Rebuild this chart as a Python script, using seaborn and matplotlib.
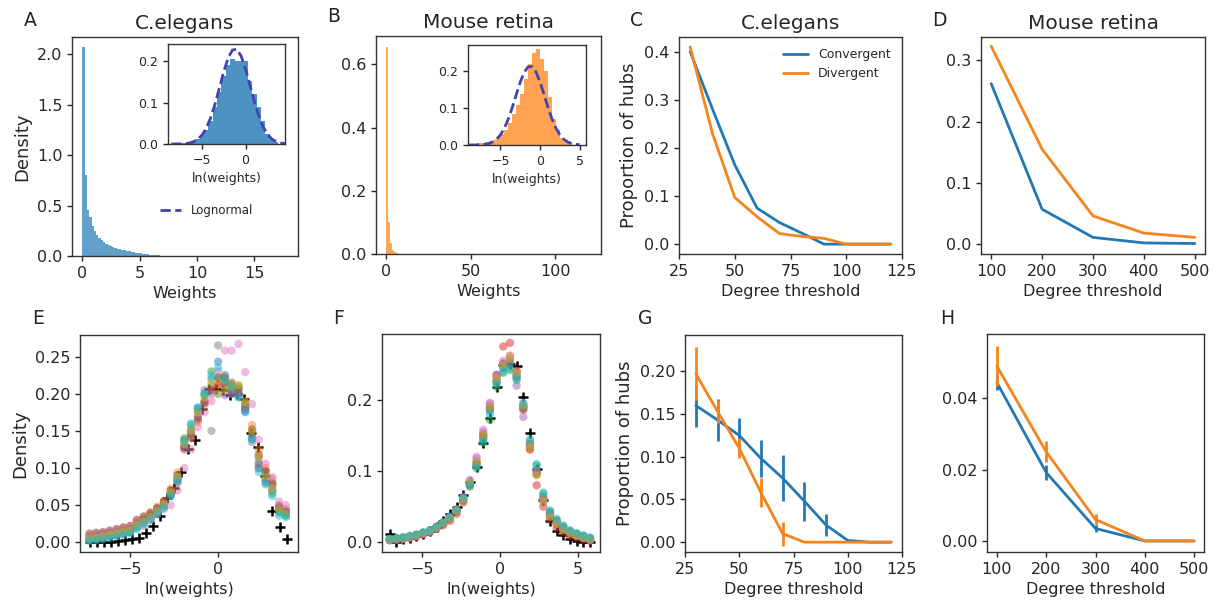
import numpy as np
import pandas as pd
import matplotlib
matplotlib.use("Agg")
import matplotlib.pyplot as plt
from matplotlib.lines import Line2D
import seaborn as sns

# ---------------- data ----------------
# A: C.elegans weight histogram (density per bin, bin width 0.2 starting at 0)
A_bin_width = 0.2
A_density = [2.07, 0.80, 0.46, 0.39, 0.30, 0.25, 0.21, 0.18, 0.155, 0.135,
             0.12, 0.105, 0.095, 0.085, 0.078, 0.070, 0.065, 0.060, 0.055, 0.050,
             0.045, 0.040, 0.036, 0.032, 0.028, 0.025, 0.022, 0.019, 0.016, 0.013,
             0.011, 0.009, 0.007, 0.005, 0.004, 0.003]
# A inset: ln(weights) histogram, bins of 0.5 starting at -8.25
A_ln_start, A_ln_width = -8.25, 0.5
A_ln_density = [0.001, 0.002, 0.003, 0.005, 0.008, 0.013, 0.022, 0.035, 0.055, 0.090,
                0.125, 0.165, 0.190, 0.205, 0.200, 0.200, 0.200, 0.152, 0.120, 0.090,
                0.055, 0.025, 0.012, 0.005]
A_fit_x = [-8.5, -8.0, -7.5, -7.0, -6.5, -6.0, -5.5, -5.0, -4.5, -4.0, -3.5, -3.0, -2.5, -2.0,
           -1.5, -1.0, -0.5, 0.0, 0.5, 1.0, 1.5, 2.0, 2.5, 3.0, 3.5, 4.0, 4.5]
A_fit_y = [0.0, 0.0001, 0.0003, 0.0008, 0.0021, 0.0049, 0.0105, 0.0207, 0.0373, 0.0622,
           0.0953, 0.134, 0.174, 0.207, 0.227, 0.229, 0.212, 0.181, 0.142, 0.103,
           0.068, 0.0417, 0.0234, 0.0121, 0.0058, 0.0025, 0.001]

# B: Mouse retina weight histogram (bin width 1.2 starting at 0)
B_bin_width = 1.2
B_density = [0.655, 0.10, 0.035, 0.012, 0.005, 0.002, 0.001, 0.0005, 0.0003, 0.0002]
B_ln_start, B_ln_width = -8.5, 0.5
B_ln_density = [0.004, 0.005, 0.006, 0.008, 0.010, 0.014, 0.020, 0.030, 0.042, 0.060,
                0.085, 0.110, 0.140, 0.180, 0.220, 0.250, 0.260, 0.235, 0.200, 0.130,
                0.070, 0.040, 0.018, 0.008, 0.003, 0.001, 0.0005]
B_fit_x = [-9.0, -8.5, -8.0, -7.5, -7.0, -6.5, -6.0, -5.5, -5.0, -4.5, -4.0, -3.5, -3.0, -2.5,
           -2.0, -1.5, -1.0, -0.5, 0.0, 0.5, 1.0, 1.5, 2.0, 2.5, 3.0, 3.5, 4.0, 4.5, 5.0]
B_fit_y = [0.0, 0.0001, 0.0003, 0.0007, 0.0017, 0.0038, 0.008, 0.0154, 0.0276, 0.046,
           0.0713, 0.1026, 0.1375, 0.171, 0.198, 0.213, 0.213, 0.198, 0.171, 0.1375,
           0.1026, 0.0713, 0.046, 0.0276, 0.0154, 0.008, 0.0038, 0.0017, 0.0007]

# C / D: proportion of hubs
C_threshold = [30, 40, 50, 60, 70, 80, 90, 100, 110, 120]
C_convergent = [0.400, 0.281, 0.165, 0.075, 0.045, 0.023, 0.0, 0.0, 0.0, 0.0]
C_divergent = [0.410, 0.230, 0.097, 0.057, 0.022, 0.016, 0.012, 0.0, 0.0, 0.0]
D_threshold = [100, 200, 300, 400, 500]
D_convergent = [0.262, 0.057, 0.011, 0.002, 0.001]
D_divergent = [0.323, 0.155, 0.046, 0.018, 0.011]

# E: C.elegans ln(weights) densities of ten resampled networks + reference (+)
E_x = [-7.3, -6.92, -6.53, -6.15, -5.76, -5.38, -4.99, -4.61, -4.22, -3.84,
       -3.45, -3.07, -2.68, -2.3, -1.91, -1.53, -1.14, -0.76, -0.37, 0.01,
       0.4, 0.78, 1.17, 1.55, 1.94, 2.32, 2.71, 3.09, 3.48, 3.86]
E_runs = [
    [0.004, 0.005, 0.007, 0.009, 0.011, 0.013, 0.015, 0.022, 0.027, 0.033, 0.041, 0.050, 0.066, 0.086, 0.128,
     0.150, 0.176, 0.198, 0.220, 0.243, 0.225, 0.205, 0.200, 0.178, 0.140, 0.105, 0.085, 0.070, 0.042, 0.036],
    [0.010, 0.012, 0.013, 0.015, 0.017, 0.020, 0.022, 0.030, 0.034, 0.040, 0.048, 0.056, 0.072, 0.094, 0.135,
     0.140, 0.162, 0.185, 0.205, 0.212, 0.218, 0.210, 0.208, 0.190, 0.158, 0.125, 0.100, 0.085, 0.050, 0.045],
    [0.003, 0.004, 0.006, 0.008, 0.010, 0.012, 0.014, 0.020, 0.026, 0.032, 0.040, 0.050, 0.064, 0.085, 0.140,
     0.158, 0.180, 0.200, 0.230, 0.222, 0.215, 0.212, 0.206, 0.182, 0.145, 0.100, 0.080, 0.066, 0.040, 0.038],
    [0.008, 0.009, 0.011, 0.012, 0.014, 0.016, 0.018, 0.026, 0.031, 0.037, 0.045, 0.055, 0.070, 0.090, 0.128,
     0.145, 0.168, 0.190, 0.205, 0.212, 0.208, 0.204, 0.200, 0.180, 0.150, 0.115, 0.095, 0.078, 0.046, 0.042],
    [0.004, 0.005, 0.006, 0.008, 0.010, 0.012, 0.014, 0.021, 0.026, 0.032, 0.040, 0.048, 0.064, 0.084, 0.130,
     0.146, 0.170, 0.188, 0.200, 0.200, 0.198, 0.200, 0.196, 0.176, 0.140, 0.100, 0.082, 0.070, 0.048, 0.042],
    [0.012, 0.013, 0.014, 0.016, 0.018, 0.020, 0.022, 0.030, 0.035, 0.040, 0.046, 0.054, 0.066, 0.080, 0.125,
     0.142, 0.165, 0.188, 0.210, 0.222, 0.222, 0.215, 0.210, 0.186, 0.152, 0.118, 0.096, 0.080, 0.048, 0.040],
    [0.008, 0.010, 0.012, 0.014, 0.016, 0.018, 0.020, 0.028, 0.022, 0.030, 0.038, 0.045, 0.050, 0.070, 0.100,
     0.125, 0.155, 0.175, 0.190, 0.230, 0.258, 0.258, 0.267, 0.229, 0.186, 0.138, 0.106, 0.088, 0.055, 0.050],
    [0.006, 0.008, 0.010, 0.012, 0.014, 0.016, 0.018, 0.025, 0.030, 0.036, 0.044, 0.052, 0.068, 0.090, 0.138,
     0.152, 0.180, 0.205, 0.150, 0.265, 0.212, 0.200, 0.205, 0.185, 0.135, 0.108, 0.090, 0.075, 0.045, 0.040],
    [0.005, 0.006, 0.008, 0.010, 0.012, 0.014, 0.016, 0.023, 0.028, 0.034, 0.042, 0.051, 0.067, 0.088, 0.132,
     0.150, 0.175, 0.195, 0.215, 0.200, 0.205, 0.210, 0.212, 0.188, 0.150, 0.115, 0.088, 0.072, 0.044, 0.038],
    [0.002, 0.003, 0.004, 0.006, 0.008, 0.010, 0.012, 0.018, 0.024, 0.030, 0.038, 0.046, 0.062, 0.082, 0.136,
     0.160, 0.182, 0.200, 0.225, 0.235, 0.218, 0.208, 0.195, 0.175, 0.138, 0.095, 0.078, 0.062, 0.036, 0.034],
]
E_ref_x = [-7.3, -6.9, -6.5, -6.1, -5.7, -5.3, -4.9, -4.5, -4.1, -3.7, -3.3, -2.9, -2.5, -2.1, -1.7,
           -1.3, -0.9, -0.5, -0.1, 0.3, 0.7, 1.1, 1.5, 1.9, 2.3, 2.7, 3.1, 3.5, 3.9]
E_ref_y = [0.0, 0.0, 0.001, 0.001, 0.002, 0.003, 0.004, 0.006, 0.012, 0.022, 0.036, 0.059, 0.073, 0.094,
           0.126, 0.138, 0.179, 0.207, 0.207, 0.205, 0.198, 0.200, 0.193, 0.147, 0.128, 0.089, 0.042,
           0.020, 0.004]

# F: Mouse retina ln(weights) densities
F_x = [-7.1, -6.67, -6.24, -5.81, -5.38, -4.95, -4.52, -4.09, -3.66, -3.23, -2.8, -2.37, -1.94,
       -1.51, -1.08, -0.65, -0.22, 0.21, 0.64, 1.07, 1.5, 1.93, 2.36, 2.79, 3.22, 3.65, 4.08,
       4.51, 4.94, 5.37, 5.8]
F_runs = [
    [0.004, 0.005, 0.006, 0.008, 0.010, 0.013, 0.016, 0.021, 0.027, 0.034, 0.044, 0.060, 0.082, 0.108, 0.145, 0.185,
     0.225, 0.245, 0.250, 0.232, 0.190, 0.138, 0.102, 0.064, 0.042, 0.030, 0.021, 0.015, 0.011, 0.008, 0.005],
    [0.003, 0.004, 0.005, 0.007, 0.009, 0.012, 0.015, 0.020, 0.026, 0.033, 0.043, 0.058, 0.084, 0.114, 0.152, 0.192,
     0.232, 0.250, 0.262, 0.240, 0.192, 0.132, 0.095, 0.060, 0.038, 0.026, 0.018, 0.012, 0.009, 0.006, 0.003],
    [0.005, 0.006, 0.007, 0.009, 0.011, 0.014, 0.017, 0.022, 0.028, 0.035, 0.045, 0.062, 0.078, 0.104, 0.140, 0.172,
     0.218, 0.238, 0.242, 0.228, 0.188, 0.142, 0.108, 0.068, 0.043, 0.031, 0.022, 0.016, 0.012, 0.009, 0.006],
    [0.003, 0.004, 0.005, 0.006, 0.008, 0.011, 0.014, 0.019, 0.024, 0.030, 0.040, 0.056, 0.080, 0.112, 0.150, 0.190,
     0.235, 0.275, 0.280, 0.240, 0.186, 0.130, 0.080, 0.050, 0.032, 0.020, 0.014, 0.009, 0.006, 0.004, 0.002],
    [0.003, 0.004, 0.005, 0.007, 0.009, 0.012, 0.015, 0.020, 0.026, 0.034, 0.046, 0.062, 0.086, 0.118, 0.155, 0.195,
     0.235, 0.250, 0.255, 0.220, 0.176, 0.135, 0.098, 0.060, 0.038, 0.026, 0.018, 0.013, 0.009, 0.006, 0.003],
    [0.004, 0.005, 0.006, 0.008, 0.010, 0.013, 0.016, 0.021, 0.027, 0.034, 0.044, 0.060, 0.082, 0.110, 0.150, 0.188,
     0.228, 0.252, 0.258, 0.236, 0.192, 0.135, 0.096, 0.058, 0.036, 0.025, 0.018, 0.013, 0.009, 0.006, 0.004],
    [0.003, 0.004, 0.005, 0.007, 0.009, 0.012, 0.015, 0.020, 0.027, 0.035, 0.046, 0.064, 0.088, 0.120, 0.158, 0.196,
     0.232, 0.255, 0.262, 0.240, 0.196, 0.138, 0.100, 0.062, 0.040, 0.028, 0.020, 0.014, 0.010, 0.007, 0.004],
    [0.004, 0.005, 0.006, 0.008, 0.010, 0.013, 0.016, 0.021, 0.027, 0.034, 0.044, 0.060, 0.082, 0.108, 0.146, 0.186,
     0.226, 0.246, 0.252, 0.234, 0.190, 0.138, 0.100, 0.062, 0.040, 0.028, 0.020, 0.014, 0.010, 0.007, 0.004],
    [0.004, 0.005, 0.006, 0.008, 0.010, 0.013, 0.016, 0.021, 0.027, 0.034, 0.044, 0.060, 0.084, 0.112, 0.150, 0.190,
     0.230, 0.248, 0.258, 0.238, 0.192, 0.134, 0.094, 0.058, 0.036, 0.026, 0.018, 0.013, 0.009, 0.006, 0.004],
    [0.005, 0.006, 0.007, 0.009, 0.011, 0.014, 0.017, 0.022, 0.028, 0.036, 0.046, 0.062, 0.080, 0.106, 0.142, 0.180,
     0.222, 0.240, 0.244, 0.230, 0.195, 0.145, 0.110, 0.070, 0.045, 0.033, 0.024, 0.017, 0.013, 0.010, 0.007],
]
F_ref_y = [0.012, 0.0, 0.005, 0.006, 0.009, 0.012, 0.016, 0.022, 0.030, 0.040, 0.050, 0.066, 0.084, 0.106,
           0.140, 0.174, 0.218, 0.249, 0.250, 0.247, 0.204, 0.153, 0.103, 0.060, 0.030, 0.016, 0.010,
           0.005, 0.002, 0.001, 0.0]

# G / H: proportion of hubs with error bars
G_threshold = [30, 40, 50, 60, 70, 80, 90, 100, 110, 120]
G_convergent = [0.160, 0.143, 0.125, 0.098, 0.075, 0.048, 0.020, 0.002, 0.0, 0.0]
G_convergent_err = [0.025, 0.025, 0.020, 0.022, 0.027, 0.023, 0.013, 0.0, 0.0, 0.0]
G_divergent = [0.197, 0.153, 0.110, 0.058, 0.010, 0.0, 0.0, 0.0, 0.0, 0.0]
G_divergent_err = [0.031, 0.014, 0.012, 0.017, 0.014, 0.0, 0.0, 0.0, 0.0, 0.0]
H_threshold = [100, 200, 300, 400, 500]
H_convergent = [0.0444, 0.0192, 0.0035, 0.0, 0.0]
H_convergent_err = [0.0020, 0.0022, 0.0010, 0.0, 0.0]
H_divergent = [0.0490, 0.0250, 0.0060, 0.0, 0.0]
H_divergent_err = [0.0055, 0.0030, 0.0016, 0.0, 0.0]

# ---------------- style ----------------
sns.set_style("ticks", {"axes.edgecolor": "0.2", "xtick.color": "0.15", "ytick.color": "0.15"})
plt.rcParams["font.family"] = ["DejaVu Sans"]
plt.rcParams["axes.linewidth"] = 1.0

BLUE = "#2278b5"
ORANGE = "#f5841c"
FIT = "#4343b0"
TICK_FS = 11.5
LABEL_FS = 11.5
TITLE_FS = 14.5

W, H = 1220, 603
fig = plt.figure(figsize=(W / 100, H / 100), dpi=100)


def add_ax(l, r, t, b):
    return fig.add_axes([l / W, 1 - b / H, (r - l) / W, (b - t) / H])


def style(ax, fs=TICK_FS):
    ax.tick_params(labelsize=fs, length=3.5, width=1)
    for s in ax.spines.values():
        s.set_visible(True)


def hist(ax, start, width, dens, color, alpha):
    edges = [start + width * k for k in range(len(dens) + 1)]
    centers = [e + width / 2 for e in edges[:-1]]
    df = pd.DataFrame({"v": centers, "w": list(dens)})
    sns.histplot(data=df, x="v", weights="w", bins=edges, stat="count", ax=ax,
                 color=color, alpha=alpha, linewidth=0)
    ax.set_ylabel("")
    ax.set_xlabel("")


# ---- A ----
axA = add_ax(72, 298, 37, 256)
hist(axA, 0.0, A_bin_width, A_density, "#1f77b4", 0.7)
axA.set_xlim(-0.9, 18.8)
axA.set_ylim(0, 2.17)
axA.set_xticks([0, 5, 10, 15])
axA.set_yticks([0.0, 0.5, 1.0, 1.5, 2.0])
axA.set_xlabel("Weights", fontsize=LABEL_FS)
axA.set_ylabel("Density", fontsize=LABEL_FS + 1.5)
axA.set_title("C.elegans", fontsize=TITLE_FS)
style(axA)
axA.legend(handles=[Line2D([0], [0], color=FIT, ls="--", lw=2)], labels=["Lognormal"],
           loc="center left", bbox_to_anchor=(0.39, 0.207), frameon=False, fontsize=8.5,
           borderaxespad=0, borderpad=0, handlelength=1.8)

axAi = add_ax(168, 285, 44, 144)
hist(axAi, A_ln_start, A_ln_width, A_ln_density, "#1f77b4", 0.8)
sns.lineplot(x=A_fit_x, y=A_fit_y, ax=axAi, color=FIT, lw=2, ls="--")
axAi.set_xlim(-8.85, 4.5)
axAi.set_ylim(0, 0.2415)
axAi.set_xticks([-5, 0])
axAi.set_yticks([0.0, 0.1, 0.2])
axAi.set_xlabel("ln(weights)", fontsize=9)
style(axAi, 9)

# ---- B ----
axB = add_ax(376, 601, 36, 254)
hist(axB, 0.0, B_bin_width, B_density, "#ff7f0e", 0.7)
axB.set_xlim(-6, 127)
axB.set_ylim(0, 0.69)
axB.set_xticks([0, 50, 100])
axB.set_yticks([0.0, 0.2, 0.4, 0.6])
axB.set_xlabel("Weights", fontsize=LABEL_FS)
axB.set_title("Mouse retina", fontsize=TITLE_FS)
style(axB)

axBi = add_ax(468, 586, 45, 145)
hist(axBi, B_ln_start, B_ln_width, B_ln_density, "#ff7f0e", 0.72)
sns.lineplot(x=B_fit_x, y=B_fit_y, ax=axBi, color=FIT, lw=2, ls="--")
axBi.set_xlim(-9.1, 5.8)
axBi.set_ylim(0, 0.272)
axBi.set_xticks([-5, 0, 5])
axBi.set_yticks([0.0, 0.1, 0.2])
axBi.set_xlabel("ln(weights)", fontsize=9)
style(axBi, 9)

# ---- C ----
axC = add_ax(679, 902, 37, 254)
sns.lineplot(x=C_threshold, y=C_convergent, ax=axC, color=BLUE, lw=2, label="Convergent")
sns.lineplot(x=C_threshold, y=C_divergent, ax=axC, color=ORANGE, lw=2, label="Divergent")
axC.set_xlim(25, 125)
axC.set_ylim(-0.0205, 0.4305)
axC.set_xticks([25, 50, 75, 100, 125])
axC.set_yticks([0.0, 0.1, 0.2, 0.3, 0.4])
axC.set_xlabel("Degree threshold", fontsize=LABEL_FS)
axC.set_ylabel("Proportion of hubs", fontsize=LABEL_FS + 1.5)
axC.set_title("C.elegans", fontsize=TITLE_FS)
axC.legend(loc="upper right", frameon=False, fontsize=9)
style(axC)

# ---- D ----
axD = add_ax(981, 1205, 37, 254)
sns.lineplot(x=D_threshold, y=D_convergent, ax=axD, color=BLUE, lw=2)
sns.lineplot(x=D_threshold, y=D_divergent, ax=axD, color=ORANGE, lw=2)
axD.set_xlim(80, 520)
axD.set_ylim(-0.0161, 0.338)
axD.set_xticks([100, 200, 300, 400, 500])
axD.set_yticks([0.0, 0.1, 0.2, 0.3])
axD.set_xlabel("Degree threshold", fontsize=LABEL_FS)
axD.set_title("Mouse retina", fontsize=TITLE_FS)
style(axD)


def runs_frame(xs, runs):
    rows = []
    for i, ys in enumerate(runs):
        for xv, yv in zip(xs, ys):
            rows.append((xv, yv, i))
    return pd.DataFrame(rows, columns=["x", "y", "run"])


# ---- E ----
axE = add_ax(80, 298, 335, 552)
sns.scatterplot(x=E_ref_x, y=E_ref_y, ax=axE, marker="+", color="black", s=60, linewidth=1.8, zorder=2)
sns.scatterplot(data=runs_frame(E_x, E_runs), x="x", y="y", hue="run", palette="tab10",
                s=36, alpha=0.5, linewidth=0, legend=False, ax=axE, zorder=3)
axE.set_xlim(-7.84, 4.55)
axE.set_ylim(-0.013, 0.279)
axE.set_xticks([-5, 0])
axE.set_yticks([0.0, 0.05, 0.10, 0.15, 0.20, 0.25])
axE.set_yticklabels(["0.00", "0.05", "0.10", "0.15", "0.20", "0.25"])
axE.set_xlabel("ln(weights)", fontsize=LABEL_FS)
axE.set_ylabel("Density", fontsize=LABEL_FS + 1.5)
style(axE)

# ---- F ----
axF = add_ax(382, 600, 334, 552)
sns.scatterplot(x=F_x, y=F_ref_y, ax=axF, marker="+", color="black", s=60, linewidth=1.8, zorder=2)
sns.scatterplot(data=runs_frame(F_x, F_runs), x="x", y="y", hue="run", palette="tab10",
                s=36, alpha=0.5, linewidth=0, legend=False, ax=axF, zorder=3)
axF.set_xlim(-7.6, 6.44)
axF.set_ylim(-0.0136, 0.2925)
axF.set_xticks([-5, 0, 5])
axF.set_yticks([0.0, 0.1, 0.2])
axF.set_xlabel("ln(weights)", fontsize=LABEL_FS)
axF.set_ylabel("")
style(axF)

# ---- G ----
axG = add_ax(685, 902, 335, 552)
sns.lineplot(x=G_threshold, y=G_convergent, ax=axG, color=BLUE, lw=2)
axG.errorbar(G_threshold, G_convergent, yerr=G_convergent_err, fmt="none", ecolor=BLUE, elinewidth=2, capsize=0)
sns.lineplot(x=G_threshold, y=G_divergent, ax=axG, color=ORANGE, lw=2)
axG.errorbar(G_threshold, G_divergent, yerr=G_divergent_err, fmt="none", ecolor=ORANGE, elinewidth=2, capsize=0)
axG.set_xlim(25, 125)
axG.set_ylim(-0.0115, 0.2425)
axG.set_xticks([25, 50, 75, 100, 125])
axG.set_yticks([0.0, 0.05, 0.10, 0.15, 0.20])
axG.set_yticklabels(["0.00", "0.05", "0.10", "0.15", "0.20"])
axG.set_xlabel("Degree threshold", fontsize=LABEL_FS)
axG.set_ylabel("Proportion of hubs", fontsize=LABEL_FS + 1.5)
style(axG)

# ---- H ----
axH = add_ax(987, 1204, 334, 552)
sns.lineplot(x=H_threshold, y=H_convergent, ax=axH, color=BLUE, lw=2)
axH.errorbar(H_threshold, H_convergent, yerr=H_convergent_err, fmt="none", ecolor=BLUE, elinewidth=2, capsize=0)
sns.lineplot(x=H_threshold, y=H_divergent, ax=axH, color=ORANGE, lw=2)
axH.errorbar(H_threshold, H_divergent, yerr=H_divergent_err, fmt="none", ecolor=ORANGE, elinewidth=2, capsize=0)
axH.set_xlim(80, 520)
axH.set_ylim(-0.0031, 0.058)
axH.set_xticks([100, 200, 300, 400, 500])
axH.set_yticks([0.0, 0.02, 0.04])
axH.set_yticklabels(["0.00", "0.02", "0.04"])
axH.set_xlabel("Degree threshold", fontsize=LABEL_FS)
style(axH)

# panel letters
for letter, (px, py) in {"A": (30, 20), "B": (334, 17), "C": (637, 20), "D": (939, 20),
                         "E": (38, 318), "F": (339, 318), "G": (645, 318), "H": (947, 318)}.items():
    fig.text(px / W, 1 - py / H, letter, fontsize=13.5, ha="center", va="center")

fig.savefig("out.png", dpi=100)
